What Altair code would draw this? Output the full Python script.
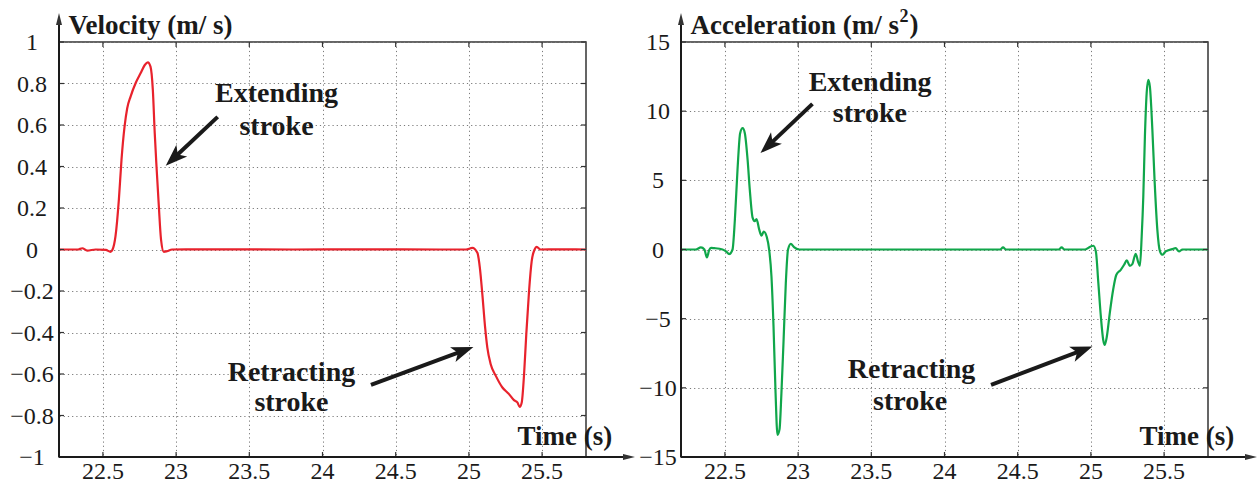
import math
import altair as alt
import pandas as pd

# ---------------- data ----------------
vel_t = [22.20, 22.33, 22.359, 22.393, 22.45, 22.52, 22.552, 22.566, 22.586, 22.609, 22.627,
         22.648, 22.666, 22.689, 22.723, 22.757, 22.786, 22.807, 22.825, 22.841, 22.854,
         22.866, 22.882, 22.897, 22.916, 22.938, 22.972, 23.30, 23.80, 24.30, 24.80, 24.98,
         25.024, 25.058, 25.075, 25.092, 25.111, 25.126, 25.149, 25.184, 25.229, 25.274,
         25.308, 25.331, 25.347, 25.361, 25.377, 25.392, 25.411, 25.429, 25.449, 25.463,
         25.49, 25.60, 25.80]
vel_v = [0.0, 0.0, 0.006, -0.005, 0.0, -0.002, -0.011, 0.0, 0.064, 0.24, 0.433,
         0.593, 0.681, 0.737, 0.801, 0.849, 0.889, 0.902, 0.881, 0.769, 0.561,
         0.401, 0.208, 0.048, -0.011, -0.008, 0.0, 0.001, 0.0, 0.001, 0.0, 0.0,
         0.008, -0.016, -0.088, -0.216, -0.377, -0.473, -0.553, -0.609, -0.665, -0.697,
         -0.726, -0.737, -0.758, -0.737, -0.601, -0.409, -0.2, -0.056, 0.0, 0.013,
         0.0, 0.001, 0.0]

acc_t = [22.20, 22.30, 22.336, 22.36, 22.377, 22.392, 22.405, 22.427, 22.484, 22.51, 22.529,
         22.552, 22.568, 22.586, 22.604, 22.621, 22.636, 22.655, 22.670, 22.689, 22.703,
         22.716, 22.734, 22.750, 22.765, 22.786, 22.802, 22.818, 22.832, 22.846, 22.859,
         22.873, 22.886, 22.900, 22.916, 22.931, 22.950, 22.972, 23.006, 23.60, 24.38,
         24.40, 24.42, 24.78, 24.80, 24.82, 24.96, 24.999, 25.017, 25.034, 25.051, 25.068,
         25.084, 25.095, 25.109, 25.129,
         25.152, 25.174, 25.204, 25.227, 25.245, 25.266, 25.283, 25.306, 25.322, 25.335,
         25.347, 25.358, 25.369, 25.381, 25.392, 25.403, 25.420, 25.436, 25.454, 25.472,
         25.488, 25.511, 25.556, 25.579, 25.602, 25.625, 25.80]
acc_v = [0.0, 0.0, 0.15, 0.0, -0.58, -0.05, 0.12, 0.1, 0.0, -0.15, -0.33,
         0.0, 2.15, 5.76, 8.41, 8.77, 8.41, 6.48, 4.31, 2.3, 2.05,
         2.2, 1.45, 1.0, 1.3, 0.9, 0.0, -1.95, -5.56, -10.38, -13.4,
         -13.0, -10.38, -6.76, -2.43, 0.0, 0.41, 0.17, 0.0, 0.0, 0.0,
         0.15, 0.0, 0.0, 0.15, 0.0, 0.0, 0.22, 0.27, -0.14, -2.43, -4.84,
         -6.52, -6.89, -6.29, -4.6,
         -2.91, -1.83, -1.47, -1.1, -0.79, -1.18, -1.06, -0.31, -0.87, -1.18,
         0.94, 3.83, 8.16, 11.3, 12.26, 11.78, 8.65, 4.8, 1.42, -0.14,
         -0.38, -0.14, 0.03, 0.1, -0.14, 0.0, 0.0]

x_ticks = [22.5, 23, 23.5, 24, 24.5, 25, 25.5]
vel_ticks = [1, 0.8, 0.6, 0.4, 0.2, 0, -0.2, -0.4, -0.6, -0.8, -1]
acc_ticks = [15, 10, 5, 0, -5, -10, -15]
x_domain = [22.2, 25.8]
vel_domain = [-1, 1]
acc_domain = [-15, 15]

vel_title = "Velocity (m/ s)"
acc_title = "Acceleration (m/ s"   # followed by a superscript "2" and ")"
acc_title_sup = "2"
acc_title_end = ")"
x_title = "Time (s)"

# annotation text rows: text, x, baseline y
vel_notes = [("Extending", 23.686, 0.712), ("stroke", 23.686, 0.553),
             ("Retracting", 23.788, -0.633), ("stroke", 23.788, -0.777)]
acc_notes = [("Extending", 23.492, 11.47), ("stroke", 23.49, 9.23),
             ("Retracting", 23.775, -9.27), ("stroke", 23.765, -11.58)]
# arrows: tail x, tail y, tip x, tip y
vel_arrows = [(23.284, 0.639, 22.929, 0.404), (24.331, -0.652, 25.031, -0.470)]
acc_arrows = [(23.098, 10.53, 22.743, 6.97), (24.318, -9.78, 25.011, -7.01)]

# ---------------- layout / style ----------------
W, H = 527, 415
FONT = "Liberation Serif"
INK = "#1a1a1a"
SX = W / (x_domain[1] - x_domain[0])
HEAD = "M0,0 L0.72,2 L0,1.5 L-0.72,2 Z"
AXHEAD = "M0,0 L0.5,2 L-0.5,2 Z"
TICK = 5
TITLE_SIZE = 27
TITLE_DX, TITLE_DY = 9, 9

AX_COMMON = dict(labels=False, titleFont=FONT, titleFontSize=TITLE_SIZE, titleFontWeight="bold",
                 titleColor=INK, domain=False, ticks=False, grid=True,
                 gridColor="#7a7a7a", gridDash=[1.2, 3], gridWidth=1)

# Times/Liberation Serif Bold advance widths (per 1000 em) for the title measuring
BOLD_W = {"A": 722, "c": 444, "e": 444, "l": 278, "r": 444, "a": 500, "t": 333, "i": 278,
          "o": 500, "n": 556, " ": 250, "(": 333, "m": 833, "/": 278, "s": 389, "2": 500}


def fmt(v):
    s = ("%.1f" % v).rstrip("0").rstrip(".")
    if s == "-0":
        s = "0"
    return s.replace("-", "\u2212")


def panel(t, v, color, ydom, yticks, ytitle, notes, arrows, ylab_off, sup=None):
    sy = H / (ydom[1] - ydom[0])
    xs = alt.Scale(domain=x_domain, nice=False, zero=False)
    ys = alt.Scale(domain=ydom, nice=False, zero=False)
    X = lambda f: alt.X(f, scale=xs)
    Y = lambda f: alt.Y(f, scale=ys)

    df = pd.DataFrame({"t": t, "v": v})
    line = alt.Chart(df).mark_line(color=color, strokeWidth=2.2, interpolate="monotone").encode(
        x=alt.X("t:Q", scale=xs, axis=alt.Axis(
            values=x_ticks, title=x_title,
            titleX=458, titleY=-13, titleAlign="left", titleBaseline="alphabetic", **AX_COMMON)),
        y=alt.Y("v:Q", scale=ys, axis=alt.Axis(
            values=yticks, title=ytitle, titleAngle=0,
            titleX=TITLE_DX, titleY=-TITLE_DY, titleAlign="left", titleBaseline="alphabetic",
            **AX_COMMON)),
    )
    layers = [line]

    # tick labels
    xl = pd.DataFrame({"x": x_ticks, "y": [ydom[0]] * len(x_ticks),
                       "s": [fmt(a) for a in x_ticks]})
    layers.append(alt.Chart(xl).mark_text(font=FONT, fontSize=24, color=INK, align="center",
                                          baseline="alphabetic", dy=22).encode(
        x=X("x:Q"), y=Y("y:Q"), text="s:N"))
    yl = pd.DataFrame({"x": [x_domain[0] - ylab_off / SX] * len(yticks), "y": yticks,
                       "s": [fmt(a) for a in yticks]})
    layers.append(alt.Chart(yl).mark_text(font=FONT, fontSize=24, color=INK, align="center",
                                          baseline="alphabetic", dy=8).encode(
        x=X("x:Q"), y=Y("y:Q"), text="s:N"))

    # inward ticks on all four sides
    trows = []
    for a in x_ticks:
        trows.append({"x": a, "x2": a, "y": ydom[0], "y2": ydom[0] + TICK / sy})
        trows.append({"x": a, "x2": a, "y": ydom[1], "y2": ydom[1] - TICK / sy})
    for b in yticks:
        trows.append({"x": x_domain[0], "x2": x_domain[0] + TICK / SX, "y": b, "y2": b})
        trows.append({"x": x_domain[1], "x2": x_domain[1] - TICK / SX, "y": b, "y2": b})
    layers.append(alt.Chart(pd.DataFrame(trows)).mark_rule(color="#333", strokeWidth=1.2).encode(
        x=X("x:Q"), x2="x2", y=Y("y:Q"), y2="y2"))

    # axis lines with arrow heads (extending beyond the plot)
    ytop = ydom[1] + 29 / sy
    xend = x_domain[1] + 49 / SX
    ax_df = pd.DataFrame({
        "x": [x_domain[0], x_domain[0]], "x2": [x_domain[0], xend - 10 / SX],
        "y": [ydom[0], ydom[0]], "y2": [ytop - 10 / sy, ydom[0]],
    })
    layers.append(alt.Chart(ax_df).mark_rule(color=INK, strokeWidth=2).encode(
        x=X("x:Q"), x2="x2", y=Y("y:Q"), y2="y2"))
    ah_df = pd.DataFrame({"x": [x_domain[0], xend], "y": [ytop, ydom[0]], "a": [0, 90]})
    layers.append(alt.Chart(ah_df).mark_point(shape=AXHEAD, filled=True, size=144, color="#333",
                                              opacity=1).encode(
        x=X("x:Q"), y=Y("y:Q"), angle=alt.Angle("a:Q", scale=None)))

    # superscript part of the title
    if sup is not None:
        sup_txt, end_txt = sup
        wpx = sum(BOLD_W.get(c, 500) for c in ytitle) / 1000 * TITLE_SIZE
        x0 = TITLE_DX + wpx + 1
        sd = pd.DataFrame({"x": [x_domain[0] + x0 / SX], "y": [ydom[1] + TITLE_DY / sy],
                           "s": [sup_txt]})
        layers.append(alt.Chart(sd).mark_text(font=FONT, fontSize=18, fontWeight="bold",
                                              color=INK, align="left", baseline="alphabetic",
                                              dy=-11).encode(
            x=X("x:Q"), y=Y("y:Q"), text="s:N"))
        x1 = x0 + 0.5 * 18 + 1
        ed = pd.DataFrame({"x": [x_domain[0] + x1 / SX], "y": [ydom[1] + TITLE_DY / sy],
                           "s": [end_txt]})
        layers.append(alt.Chart(ed).mark_text(font=FONT, fontSize=TITLE_SIZE, fontWeight="bold",
                                              color=INK, align="left",
                                              baseline="alphabetic").encode(
            x=X("x:Q"), y=Y("y:Q"), text="s:N"))

    # annotation text
    nd = pd.DataFrame(notes, columns=["txt", "x", "y"])
    layers.append(alt.Chart(nd).mark_text(font=FONT, fontSize=28, fontWeight="bold", color=INK,
                                          align="center", baseline="alphabetic").encode(
        x=X("x:Q"), y=Y("y:Q"), text="txt:N"))

    # annotation arrows
    rows = []
    for (x0, y0, x1, y1) in arrows:
        dx = (x1 - x0) * SX
        dy = -(y1 - y0) * sy
        L = math.hypot(dx, dy)
        ux, uy = dx / L, dy / L
        ang = math.degrees(math.atan2(dx, -dy)) % 360
        rows.append({"x": x0, "y": y0, "x2": x1 - 12 * ux / SX, "y2": y1 + 12 * uy / sy,
                     "hx": x1, "hy": y1, "a": ang})
    ad = pd.DataFrame(rows)
    layers.append(alt.Chart(ad).mark_rule(color=INK, strokeWidth=4).encode(
        x=X("x:Q"), x2="x2", y=Y("y:Q"), y2="y2"))
    layers.append(alt.Chart(ad).mark_point(shape=HEAD, filled=True, size=484, color=INK,
                                           opacity=1).encode(
        x=X("hx:Q"), y=Y("hy:Q"), angle=alt.Angle("a:Q", scale=None)))

    return alt.layer(*layers).properties(width=W, height=H)


left = panel(vel_t, vel_v, "#e8222c", vel_domain, vel_ticks, vel_title, vel_notes, vel_arrows, 27)
right = panel(acc_t, acc_v, "#10a64a", acc_domain, acc_ticks, acc_title, acc_notes, acc_arrows, 23,
              sup=(acc_title_sup, acc_title_end))

chart = alt.hconcat(left, right, spacing=95, bounds="flush").configure(
    font=FONT
).configure_view(
    stroke="#333", strokeWidth=1.5
).properties(
    autosize=alt.AutoSizeParams(type="none"),
    padding={"left": 59, "top": 42, "right": 1199, "bottom": 447},
)

chart.save("out.html", embed_options={"renderer": "svg", "actions": False})
